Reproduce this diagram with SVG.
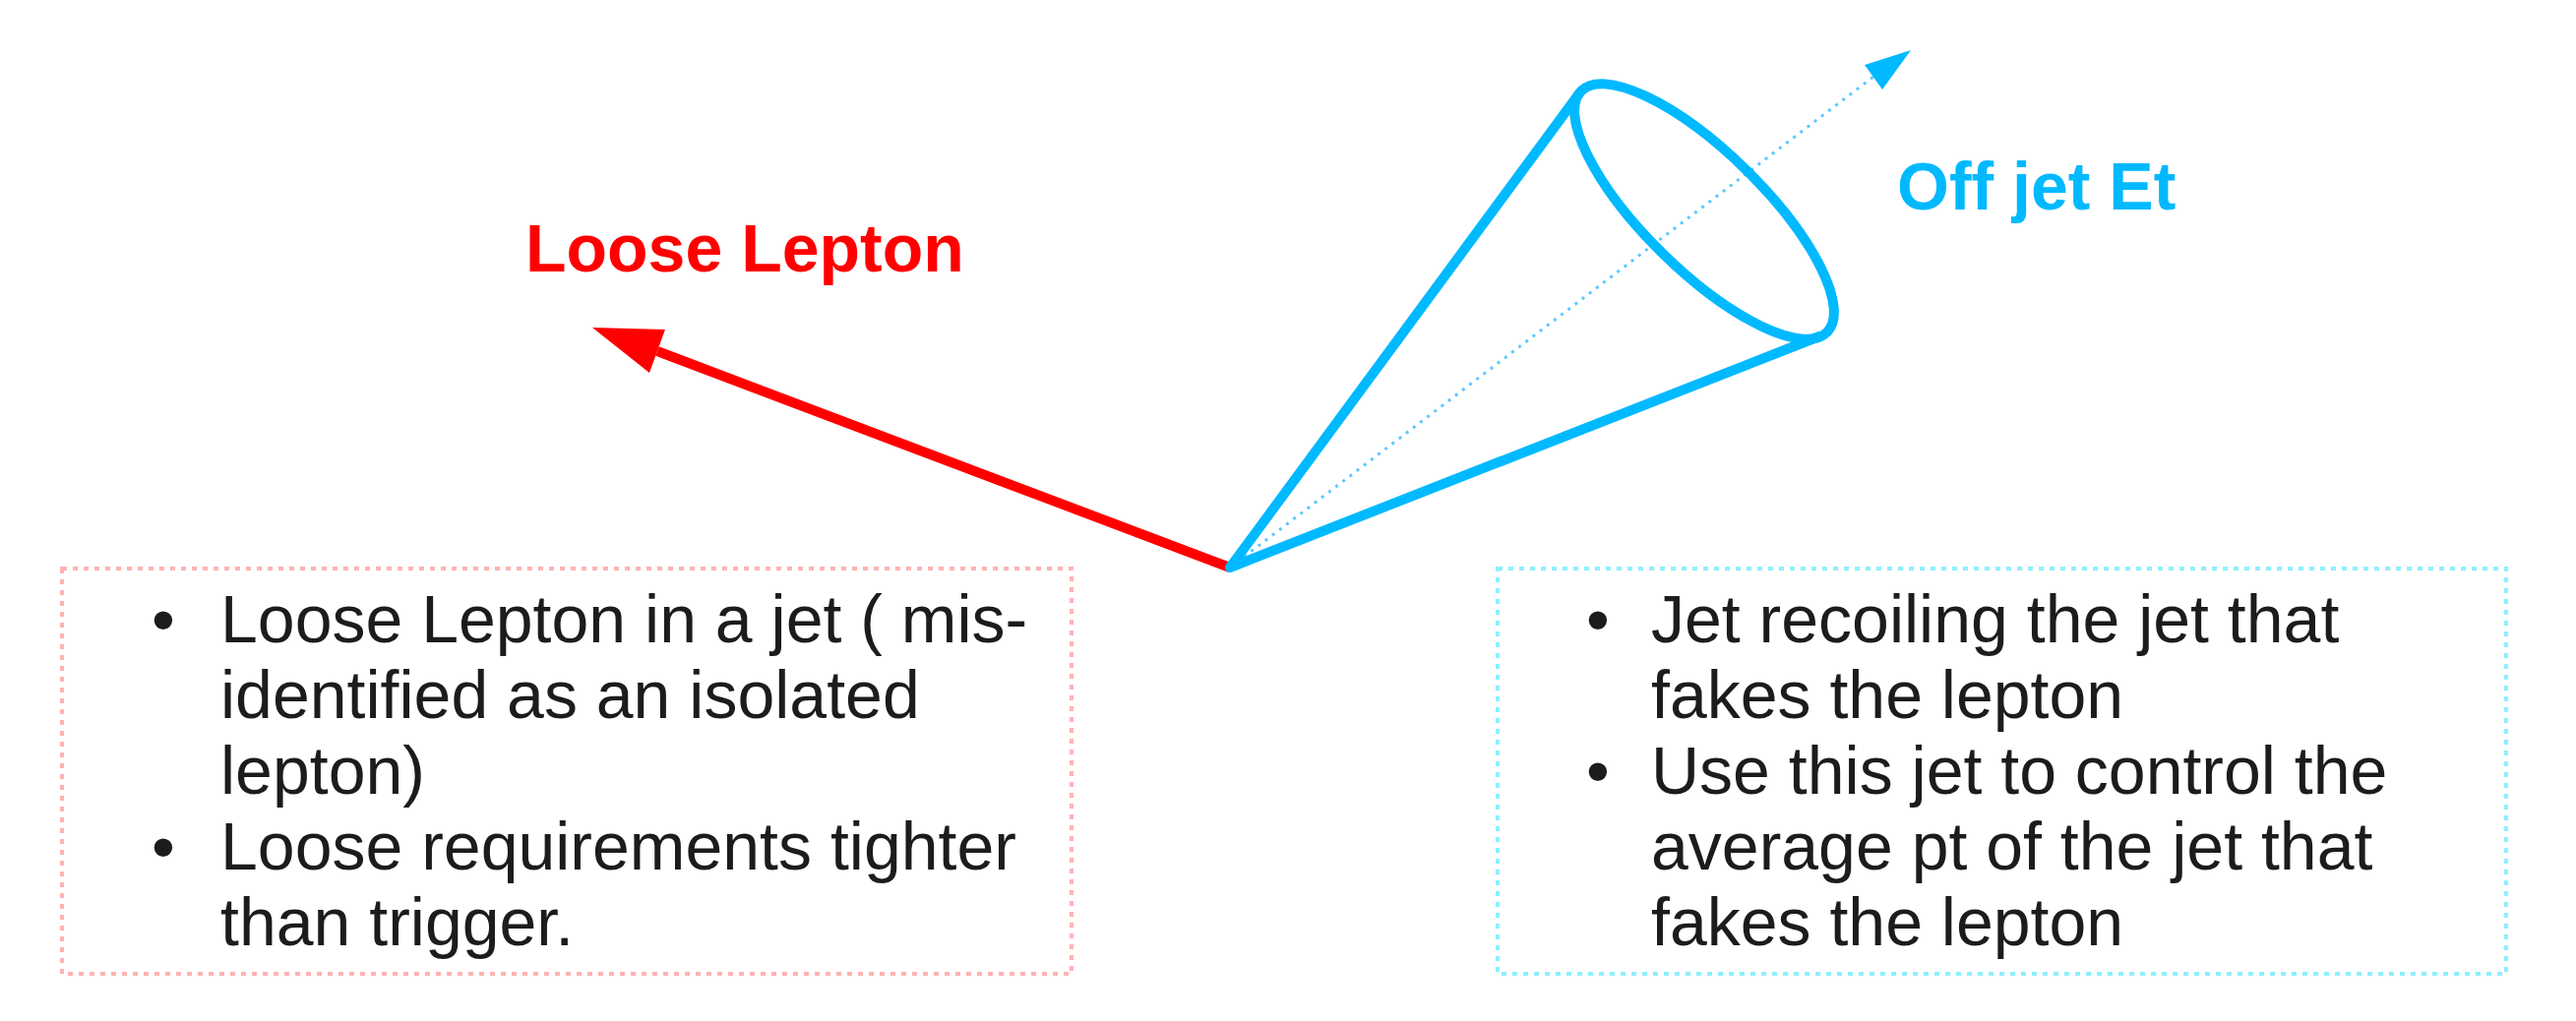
<svg xmlns="http://www.w3.org/2000/svg" width="2618" height="1038" viewBox="0 0 2618 1038">
<style>
text{font-family:"Liberation Sans",Arial,sans-serif;}
.lbl{font-size:68px;font-weight:bold;}
.body{font-size:68px;fill:#1c1c1c;}
.cone{fill:none;stroke:#00b9ff;stroke-width:10;stroke-linecap:round;stroke-linejoin:round;}
.box{fill:none;stroke-width:4;stroke-dasharray:5 6;}
</style>
<rect width="2618" height="1038" fill="#ffffff"/>
<g id="connectors">
  <g id="lepton-arrow">
    <line x1="1250" y1="577" x2="668" y2="357" stroke="#ff0000" stroke-width="10"/>
    <polygon points="602,333 676,335 660,379" fill="#ff0000"/>
  </g>
  <g id="jet-axis">
    <line x1="1250" y1="577" x2="1904" y2="78" stroke="#5cc8ff" stroke-width="3" stroke-dasharray="3 6"/>
    <polygon points="1942,51 1895,66 1913,91" fill="#00b9ff"/>
  </g>
</g>
<g id="jet-cone">
  <polyline class="cone" points="1605,95 1250,577 1849,342"/>
  <ellipse class="cone" cx="1732" cy="215" rx="175" ry="60" transform="rotate(44.4 1732 215)"/>
</g>
<g id="label-loose-lepton">
  <text class="lbl" x="534" y="276" fill="#ff0000">Loose Lepton</text>
</g>
<g id="label-off-jet">
  <text class="lbl" x="1928" y="213" fill="#00b9ff">Off jet Et</text>
</g>
<g id="left-box">
  <rect class="box" x="63" y="578" width="1026" height="412" stroke="#ffb3b3"/>
  <text class="body" x="154" y="653">•</text>
  <text class="body" x="224" y="653">Loose Lepton in a jet ( mis-</text>
  <text class="body" x="224" y="730">identified as an isolated</text>
  <text class="body" x="224" y="807">lepton)</text>
  <text class="body" x="154" y="884">•</text>
  <text class="body" x="224" y="884">Loose requirements tighter</text>
  <text class="body" x="224" y="961">than trigger.</text>
</g>
<g id="right-box">
  <rect class="box" x="1522" y="578" width="1025" height="412" stroke="#8cf0ff"/>
  <text class="body" x="1612" y="653">•</text>
  <text class="body" x="1678" y="653">Jet recoiling the jet that</text>
  <text class="body" x="1678" y="730">fakes the lepton</text>
  <text class="body" x="1612" y="807">•</text>
  <text class="body" x="1678" y="807">Use this jet to control the</text>
  <text class="body" x="1678" y="884">average pt of the jet that</text>
  <text class="body" x="1678" y="961">fakes the lepton</text>
</g>
</svg>
